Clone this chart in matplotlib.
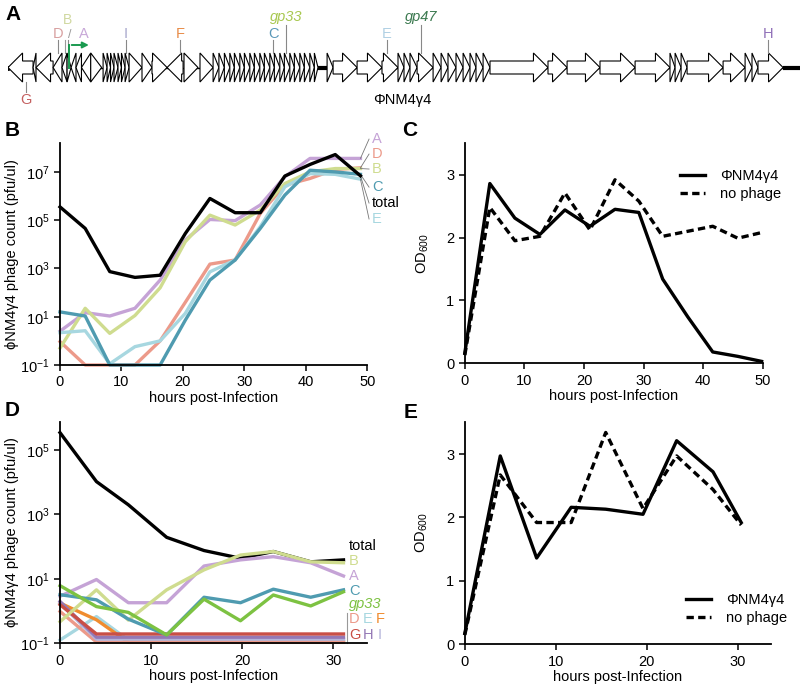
import matplotlib
matplotlib.use("Agg")
import matplotlib.pyplot as plt
from matplotlib.patches import Polygon

plt.rcParams['font.family'] = ['Liberation Sans', 'DejaVu Sans']
plt.rcParams['mathtext.fontset'] = 'custom'
plt.rcParams['mathtext.rm'] = 'Liberation Sans'
plt.rcParams['mathtext.it'] = 'Liberation Sans:italic'

# ---------------- data ----------------
# genome map of phiNM4g4 (kb): start, end, strand
genes = [
    (0.0, 1.38, -1), (1.38, 1.54, -1), (1.54, 2.48, -1), (2.48, 2.97, -1),
    (2.97, 3.25, -1), (3.25, 3.47, 1), (3.47, 3.74, -1), (3.74, 4.04, -1),
    (4.04, 4.55, -1), (4.55, 5.15, 1), (5.23, 5.45, 1), (5.45, 5.64, 1),
    (5.64, 5.83, 1), (5.83, 6.05, 1), (6.05, 6.24, 1), (6.24, 6.44, 1),
    (6.44, 6.66, 1), (6.66, 7.37, 1), (7.37, 7.92, 1), (7.92, 8.75, 1),
    (8.75, 9.63, -1), (9.68, 10.45, 1), (10.56, 11.28, 1),
    (11.28, 11.6, 1), (11.6, 11.9, 1), (11.9, 12.2, 1), (12.2, 12.45, 1),
    (12.45, 12.75, 1), (12.75, 13.0, 1), (13.0, 13.3, 1), (13.3, 13.55, 1),
    (13.55, 13.85, 1), (13.85, 14.1, 1), (14.1, 14.4, 1), (14.4, 14.65, 1),
    (14.65, 14.95, 1), (14.95, 15.2, 1), (15.2, 15.5, 1), (15.5, 15.75, 1),
    (15.75, 16.05, 1), (16.05, 16.3, 1), (16.3, 16.6, 1), (16.6, 16.85, 1),
    (16.85, 17.05, 1), (17.55, 17.88, 1), (17.88, 19.2, 1), (19.2, 20.57, 1),
    (20.57, 21.45, 1), (21.45, 21.78, 1), (21.78, 22.11, 1), (22.11, 22.5, 1),
    (22.5, 23.38, 1), (23.38, 23.82, 1), (23.82, 24.2, 1), (24.2, 24.64, 1),
    (24.64, 25.03, 1), (25.03, 25.41, 1), (25.41, 25.74, 1), (25.74, 26.13, 1),
    (26.13, 26.51, 1), (26.51, 29.7, 1), (29.7, 30.75, 1), (30.75, 32.56, 1),
    (32.56, 34.49, 1), (34.49, 36.41, 1), (36.41, 36.69, 1), (36.69, 37.02, 1),
    (37.02, 37.35, 1), (37.35, 39.33, 1), (39.33, 40.54, 1), (40.54, 40.92, 1),
    (40.92, 41.25, 1), (41.25, 42.63, 1),
]
genome_end = 43.56
thick_segments = [(17.05, 17.55), (42.63, 43.56)]

# marked sites: name, position (kb), side, colour, italic
sites = [
    ("G", 0.99, "below", "#c46060", False),
    ("D", 2.75, "above", "#d8a0a0", False),
    ("B", 3.19, "high", "#d0d8a0", False),
    ("A", 3.30, "above", "#c8a8d8", False),
    ("I", 6.49, "above", "#a8a8cc", False),
    ("F", 9.46, "above", "#e88c48", False),
    ("C", 14.58, "above", "#5a98b8", False),
    ("gp33", 15.29, "top", "#a8c850", True),
    ("E", 20.85, "above", "#b0d0e4", False),
    ("gp47", 22.70, "top", "#3c7a50", True),
    ("H", 41.80, "above", "#9070b8", False),
]
promoter = (3.37, 4.6)

series_colors = {
    "A": "#c5a3d6", "B": "#cfdc8f", "C": "#4f9bb0", "D": "#ec9a8a",
    "E": "#a7d7e0", "F": "#f08c2f", "G": "#c94f46", "H": "#9478b5",
    "I": "#b4b4da", "gp33": "#7dc242", "total": "black",
}

# panel B: log10 phage count (pfu/ul)
b_hours = [0, 4.1, 8.1, 12.2, 16.3, 20.4, 24.4, 28.5, 32.6, 36.6, 40.7, 44.8, 48.9]
b_total = [5.55, 4.66, 2.87, 2.63, 2.72, 4.45, 5.90, 5.31, 5.31, 6.83, 7.31, 7.72, 6.84]
b_A = [0.40, 1.17, 1.03, 1.35, 2.52, 4.18, 5.03, 4.98, 5.63, 6.80, 7.56, 7.56, 7.56]
b_B = [-0.30, 1.35, 0.31, 1.05, 2.20, 4.11, 5.21, 4.80, 5.42, 6.52, 7.00, 7.14, 7.14]
b_D = [-0.03, -1.0, -1.0, -1.0, 0.0, 1.6, 3.18, 3.35, 5.28, 6.45, 6.73, 7.10, 7.17]
b_C = [1.20, 1.03, -1.0, -1.0, -1.0, 0.86, 2.52, 3.35, 4.66, 6.04, 7.07, 7.00, 6.90]
b_E = [0.34, 0.42, -0.95, -0.24, 0.0, 1.14, 2.86, 3.35, 4.73, 6.38, 6.93, 6.90, 6.70]
b_labels = ["A", "D", "B", "C", "total", "E"]
b_label_y = [8.36, 7.74, 7.12, 6.37, 5.71, 5.05]

# panel C: OD600
c_hours = [0, 4.2, 8.4, 12.6, 16.8, 21.0, 25.2, 29.2, 33.2, 37.4, 41.6, 45.8, 49.8]
c_phage = [0.16, 2.86, 2.31, 2.05, 2.44, 2.18, 2.45, 2.40, 1.34, 0.74, 0.18, 0.11, 0.03]
c_nophage = [0.13, 2.48, 1.95, 2.02, 2.71, 2.12, 2.92, 2.58, 2.02, 2.10, 2.18, 1.99, 2.08]

# panel D: log10 phage count (pfu/ul)
d_hours = [0, 4.0, 7.5, 11.7, 15.8, 19.8, 23.4, 27.5, 31.1]
d_total = [5.54, 4.02, 3.30, 2.29, 1.88, 1.64, 1.85, 1.53, 1.59]
d_B = [-0.33, 0.66, -0.28, 0.66, 1.28, 1.74, 1.85, 1.53, 1.50]
d_A = [0.46, 0.98, 0.26, 0.26, 1.40, 1.59, 1.69, 1.50, 1.09]
d_C = [0.51, 0.35, -0.25, -0.74, 0.43, 0.26, 0.68, 0.43, 0.66]
d_gp33 = [0.79, 0.14, -0.04, -0.74, 0.37, -0.30, 0.50, 0.16, 0.60]
d_D = [-0.01, -0.96, -0.96, -0.96, -0.96, -0.96, -0.96, -0.96, -0.96]
d_E = [-0.90, -0.17, -0.90, -0.90, -0.90, -0.90, -0.90, -0.90, -0.90]
d_F = [0.25, -0.27, -0.97, -0.97, -0.97, -0.97, -0.97, -0.97, -0.97]
d_I = [0.25, -0.87, -0.87, -0.87, -0.87, -0.87, -0.87, -0.87, -0.87]
d_H = [0.30, -0.81, -0.81, -0.81, -0.81, -0.81, -0.81, -0.81, -0.81]
d_G = [0.20, -0.71, -0.71, -0.71, -0.71, -0.71, -0.71, -0.71, -0.71]

# panel E: OD600
e_hours = [0, 3.9, 7.9, 11.7, 15.5, 19.6, 23.3, 27.3, 30.4]
e_phage = [0.17, 2.97, 1.36, 2.16, 2.13, 2.05, 3.21, 2.72, 1.92]
e_nophage = [0.15, 2.67, 1.92, 1.92, 3.34, 2.14, 2.97, 2.44, 1.88]


def style_axes(ax):
    for s in ["top", "right"]:
        ax.spines[s].set_visible(False)
    for s in ["left", "bottom"]:
        ax.spines[s].set_linewidth(1.3)
    ax.tick_params(direction="out", length=4, width=1.1, labelsize=10.5)
    ax.minorticks_off()


fig = plt.figure(figsize=(8, 6.93), dpi=100)

# ---------------- A: genome map ----------------
axA = fig.add_axes([0.01, 1 - 110 / 693, 0.99, 100 / 693])
axA.set_xlim(0, genome_end)
axA.set_ylim(-0.85, 1.15)
axA.axis("off")
axA.plot([0, genome_end], [0, 0], color="black", lw=1, zorder=1)
for s, e in thick_segments:
    axA.plot([s, e], [0, 0], color="black", lw=3, solid_capstyle="butt", zorder=1)
axA.plot([0], [0], "o", color="black", ms=2.5, zorder=1)
bh, hh = 0.13, 0.29
for s, e, strand in genes:
    hl = min(0.8, e - s)
    if strand > 0:
        pts = [(s, -bh), (e - hl, -bh), (e - hl, -hh), (e, 0), (e - hl, hh), (e - hl, bh), (s, bh)]
    else:
        pts = [(e, -bh), (s + hl, -bh), (s + hl, -hh), (s, 0), (s + hl, hh), (s + hl, bh), (e, bh)]
    axA.add_patch(Polygon(pts, closed=True, facecolor="white", edgecolor="black", lw=0.8, zorder=2))

for name, pos, side, col, ital in sites:
    style = "italic" if ital else "normal"
    if side == "below":
        axA.plot([pos, pos], [-0.29, -0.49], color="#888888", lw=0.8)
        axA.text(pos, -0.65, name, color=col, fontsize=10.5, ha="center", va="center")
    elif side == "top":
        axA.plot([pos, pos], [0.29, 0.85], color="#888888", lw=0.8)
        axA.text(pos, 1.01, name, color=col, fontsize=10.5, ha="center", va="center", style=style)
    elif side == "high":
        axA.plot([pos - 0.05, pos - 0.05], [0.29, 0.55], color="#999999", lw=0.8)
        axA.text(pos + 0.1, 0.94, name, color=col, fontsize=10, ha="center", va="center")
    else:
        axA.plot([pos, pos], [0.29, 0.55], color="#888888", lw=0.8)
        dx = 0.85 if name == "A" else 0
        axA.text(pos + dx, 0.67, name, color=col, fontsize=10.5, ha="center", va="center")
axA.text(3.37, 0.64, "/", color="#999999", fontsize=9, ha="center", va="center")
axA.annotate("", xy=(promoter[1], 0.45), xytext=(promoter[0] - 0.02, 0.45),
             arrowprops=dict(arrowstyle="-|>", color="#1a9a50", lw=1.4, mutation_scale=9))
axA.plot([promoter[0], promoter[0]], [0.0, 0.45], color="#1a9a50", lw=1.4, zorder=3)
axA.text(21.7, -0.65, "ΦNM4γ4", fontsize=10.5, ha="center", va="center")

# ---------------- B ----------------
axB = fig.add_axes([0.075, 0.4733, 0.384, 0.3204])
b_series = {"A": b_A, "D": b_D, "B": b_B, "E": b_E, "C": b_C}
for name, vals in b_series.items():
    axB.plot(b_hours, [10 ** v for v in vals], color=series_colors[name], lw=2.4, clip_on=False)
axB.plot(b_hours, [10 ** v for v in b_total], color="black", lw=2.4, clip_on=False, zorder=5)
b_last = {"A": b_A[-1], "D": b_D[-1], "B": b_B[-1], "C": b_C[-1], "total": b_total[-1], "E": b_E[-1]}
for name, ly in zip(b_labels, b_label_y):
    axB.plot([b_hours[-1], 50.3], [10 ** b_last[name], 10 ** ly], color="#777777", lw=0.6, clip_on=False)
    axB.text(50.8, 10 ** ly, name, color=series_colors[name], fontsize=10.5, va="center", ha="left")
axB.set_yscale("log")
axB.set_xlim(0, 50)
axB.set_ylim(10 ** -1, 10 ** 8.2)
axB.set_yticks([1e-1, 1e1, 1e3, 1e5, 1e7])
axB.set_xticks([0, 10, 20, 30, 40, 50])
style_axes(axB)
axB.set_xlabel("hours post-Infection", fontsize=10.5, labelpad=1)
axB.set_ylabel("ϕNM4γ4 phage count (pfu/ul)", fontsize=10.5)
axB.yaxis.set_label_coords(-0.135, 0.5)

# ---------------- C ----------------
axC = fig.add_axes([0.581, 0.4758, 0.3725, 0.3174])
axC.plot(c_hours, c_phage, color="black", lw=2.4, label="ΦNM4γ4", clip_on=False)
axC.plot(c_hours, c_nophage, color="black", lw=2.4, ls=(0, (2.2, 1.3)), label="no phage", clip_on=False)
axC.set_xlim(0, 50)
axC.set_ylim(0, 3.5)
axC.set_xticks([0, 10, 20, 30, 40, 50])
axC.set_yticks([0, 1, 2, 3])
style_axes(axC)
axC.set_xlabel("hours post-Infection", fontsize=10.5, labelpad=1)
axC.set_ylabel("OD$_{\\mathrm{600}}$", fontsize=10.5)
axC.yaxis.set_label_coords(-0.115, 0.5)
axC.legend(loc="upper right", bbox_to_anchor=(1.08, 0.91), frameon=False, fontsize=10.5,
           handlelength=1.7, handletextpad=1.0, borderaxespad=0, labelspacing=0.3)

# ---------------- D ----------------
axD = fig.add_axes([0.075, 0.0717, 0.384, 0.3198])
axD.plot(d_hours, [10 ** v for v in d_total], color="black", lw=2.4, clip_on=False)
d_series = [("E", d_E), ("F", d_F), ("D", d_D), ("I", d_I), ("H", d_H), ("G", d_G),
            ("A", d_A), ("B", d_B), ("C", d_C), ("gp33", d_gp33)]
for name, vals in d_series:
    axD.plot(d_hours, [10 ** v for v in vals], color=series_colors[name], lw=2.4, clip_on=False)
d_text = [("total", 31.7, 2.02, "black", "normal"), ("B", 31.7, 1.55, series_colors["B"], "normal"),
          ("A", 31.7, 1.08, series_colors["A"], "normal"), ("C", 31.7, 0.63, series_colors["C"], "normal"),
          ("gp33", 31.7, 0.23, series_colors["gp33"], "italic"),
          ("D", 31.7, -0.25, series_colors["D"], "normal"), ("E", 33.2, -0.25, series_colors["E"], "normal"),
          ("F", 34.6, -0.25, series_colors["F"], "normal"),
          ("G", 31.7, -0.74, series_colors["G"], "normal"), ("H", 33.2, -0.74, series_colors["H"], "normal"),
          ("I", 34.8, -0.74, series_colors["I"], "normal")]
for name, x, ly, col, st in d_text:
    axD.text(x, 10 ** ly, name, color=col, fontsize=10.5, va="center", ha="left", style=st)
axD.plot([31.5, 31.5], [10 ** -0.06, 10 ** -1.0], color="#999999", lw=0.8, clip_on=False)
axD.set_yscale("log")
axD.set_xlim(0, 33.7)
axD.set_ylim(10 ** -1, 10 ** 5.88)
axD.set_yticks([1e-1, 1e1, 1e3, 1e5])
axD.set_xticks([0, 10, 20, 30])
style_axes(axD)
axD.set_xlabel("hours post-Infection", fontsize=10.5, labelpad=1)
axD.set_ylabel("ϕNM4γ4 phage count (pfu/ul)", fontsize=10.5)
axD.yaxis.set_label_coords(-0.135, 0.5)

# ---------------- E ----------------
axE = fig.add_axes([0.581, 0.0703, 0.383, 0.3212])
axE.plot(e_hours, e_phage, color="black", lw=2.4, label="ΦNM4γ4", clip_on=False)
axE.plot(e_hours, e_nophage, color="black", lw=2.4, ls=(0, (2.2, 1.3)), label="no phage", clip_on=False)
axE.set_xlim(0, 33.7)
axE.set_ylim(0, 3.51)
axE.set_xticks([0, 10, 20, 30])
axE.set_yticks([0, 1, 2, 3])
style_axes(axE)
axE.set_xlabel("hours post-Infection", fontsize=10.5, labelpad=1)
axE.set_ylabel("OD$_{\\mathrm{600}}$", fontsize=10.5)
axE.yaxis.set_label_coords(-0.115, 0.5)
axE.legend(loc="lower right", bbox_to_anchor=(1.07, 0.06), frameon=False, fontsize=10.5,
           handlelength=1.7, handletextpad=1.0, borderaxespad=0, labelspacing=0.3)

# panel letters
for letter, x, y in [("A", 5, 15), ("B", 5, 130), ("C", 402, 130), ("D", 5, 410), ("E", 404, 412)]:
    fig.text(x / 800, 1 - y / 693, letter, fontsize=15, fontweight="bold", va="center", ha="left")

fig.savefig("out.png", dpi=100)
